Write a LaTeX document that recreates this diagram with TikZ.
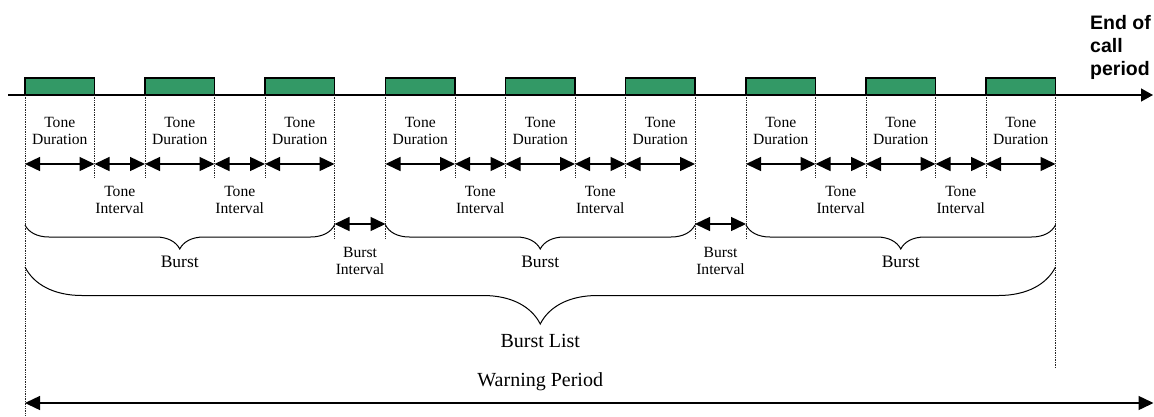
\documentclass[tikz,border=0pt]{standalone}
\usepackage{fontspec}
\setmainfont{Liberation Serif}
\newfontfamily\arialfont{Liberation Sans}
\usepackage{xcolor}
\usepackage{tikz}
\usetikzlibrary{positioning,arrows.meta,decorations.pathreplacing}
\usetikzlibrary{calc}
\definecolor{tonegreen}{RGB}{51,153,102}

\begin{document}
\begin{tikzpicture}[x=1pt, y=-1pt,
    tonebox/.style={draw=black, line width=1.3pt, fill=tonegreen},
    axis/.style={line width=1.3pt, -{Triangle[length=12pt,width=13pt]}},
    guide/.style={densely dotted, line width=0.7pt, black!85},
    span/.style={{Triangle[length=15pt,width=14pt]}-{Triangle[length=15pt,width=14pt]}, line width=1.4pt},
    lab/.style={font=\fontsize{15.6}{17}\selectfont, align=center, inner sep=0pt},
    burstbrace/.style={decorate, decoration={brace, mirror, amplitude=24pt}, line width=1pt},
    listbrace/.style={decorate, decoration={brace, mirror, amplitude=57pt}, line width=1pt}]
  \useasboundingbox (0,0) rectangle (1154,416);
  % time axis
  \coordinate (A0) at (8,95);
  \coordinate (A1) at (1153,95);
  \draw[axis] (A0) -- (A1);
  \node[anchor=north west, align=left, inner sep=0pt,
        font=\arialfont\bfseries\fontsize{19.5}{23}\selectfont] (endcall) at (1090,15) {End of\\call\\period};
  % three bursts of three tones
  \foreach \b/\s in {1/25,2/385.5,3/746}{
    \foreach \k in {1,2,3}{
      \coordinate (S\b\k) at (\s+\k*120-120,95);
      \coordinate (E\b\k) at (\s+\k*120-50.5,95);
      \draw[tonebox] (S\b\k) rectangle ++(69.5,-17);
      \node[lab] (D\b\k) at ($(S\b\k)!0.5!(E\b\k)+(0,36)$) {Tone\\Duration};
      \draw[span] ($(S\b\k)+(0,69)$) -- ($(E\b\k)+(0,69)$);
    }
    \foreach \k/\n in {1/2,2/3}{
      \draw[span] ($(E\b\k)+(0,69)$) -- ($(S\b\n)+(0,69)$);
      \node[lab] (I\b\k) at ($(E\b\k)!0.5!(S\b\n)+(0,105)$) {Tone\\Interval};
    }
    \foreach \p in {E\b1,S\b2,E\b2,S\b3}
      \draw[guide] (\p) -- ++(0,83);
    \draw[burstbrace] ($(S\b1)+(0,130)$) -- ($(E\b3)+(0,130)$);
    \node[lab, font=\fontsize{17.5}{19}\selectfont] (B\b) at ($(S\b1)!0.5!(E\b3)+(0,167)$) {Burst};
  }
  % long guides
  \foreach \p/\len in {S11/321,E13/143,S21/143,E23/143,S31/143,E33/273}
    \draw[guide] (\p) -- ++(0,\len);
  % burst intervals
  \foreach \b/\n in {1/2,2/3}{
    \draw[span] ($(E\b3)+(0,129)$) -- ($(S\n1)+(0,129)$);
    \node[lab] (G\b) at ($(E\b3)!0.5!(S\n1)+(0,166)$) {Burst\\Interval};
  }
  % burst list and warning period
  \draw[listbrace] ($(S11)+(0,172)$) -- ($(E33)+(0,172)$);
  \node[lab, font=\fontsize{20}{24}\selectfont] (list) at ($(S11)!0.5!(E33)+(0,246)$) {Burst List};
  \node[lab, font=\fontsize{20}{24}\selectfont] (warn) at ($(S11)!0.5!(E33)+(0,287)$) {Warning Period};
  \coordinate (W0) at ($(S11)+(0,308)$);
  \coordinate (W1) at (1153.5,403);
  \draw[span] (W0) -- (W1);
\end{tikzpicture}
\end{document}
